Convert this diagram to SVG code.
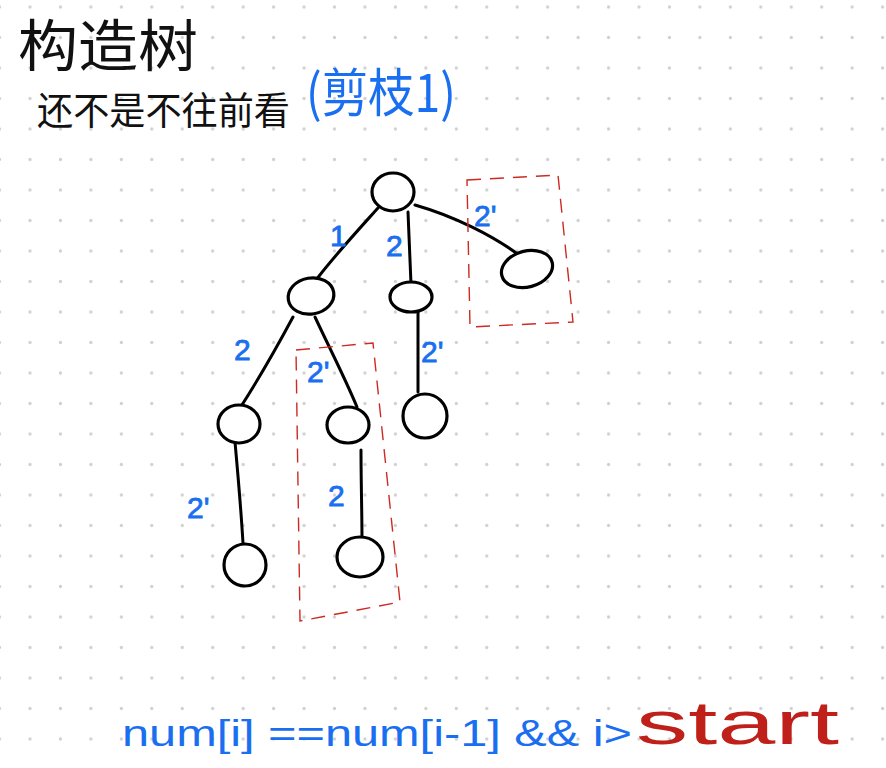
<svg xmlns="http://www.w3.org/2000/svg" width="886" height="768" viewBox="0 0 886 768">
<defs>
<pattern id="dots" patternUnits="userSpaceOnUse" x="14.8" y="-8.25" width="30.45" height="30.5">
<circle cx="15.2" cy="15.25" r="1.6" fill="#cfcfcf"/>
</pattern>
<style>
.node{fill:#fff;stroke:#000;stroke-width:3.2}
.edge{fill:none;stroke:#000;stroke-width:3;stroke-linecap:round}
.lbl{font-family:"Liberation Sans",sans-serif;fill:#1a6ff0;stroke:#1a6ff0;stroke-width:0.8;font-size:30px}
.box{fill:none;stroke:#cc2a22;stroke-width:1.4;stroke-dasharray:14 9}
.cjk{font-family:"Noto Sans CJK SC",sans-serif}
</style>
</defs>
<rect width="886" height="768" fill="#fff"/>
<rect width="886" height="768" fill="url(#dots)"/>

<g id="title">
<text class="cjk" x="18" y="66" font-size="56" textLength="180" lengthAdjust="spacingAndGlyphs" fill="#111">构造树</text>
<text class="cjk" x="37" y="124" font-size="38" textLength="253" lengthAdjust="spacingAndGlyphs" fill="#111">还不是不往前看</text>
<text class="cjk" x="306" y="112" font-size="52" textLength="150" lengthAdjust="spacingAndGlyphs" fill="#1a6ff0">(剪枝1)</text>
</g>

<g id="connectors">
<path class="edge" d="M378,208 C360,228 335,255 316,280"/>
<path class="edge" d="M408,212 C409,240 410,262 411,284"/>
<path class="edge" d="M415,205 C450,215 495,235 528,262"/>
<path class="edge" d="M293,317 C278,345 258,380 240,408"/>
<path class="edge" d="M315,317 C328,345 345,378 357,407"/>
<path class="edge" d="M418,310 L418,392"/>
<path class="edge" d="M235,442 C238,475 241,510 243,543"/>
<path class="edge" d="M361,450 C361,480 362,515 362,540"/>
</g>

<g id="root"><ellipse class="node" cx="393" cy="192" rx="21" ry="19"/></g>
<g id="n-right"><ellipse class="node" cx="527" cy="269" rx="26" ry="18" transform="rotate(-15 527 269)"/></g>
<g id="n-a"><ellipse class="node" cx="311" cy="296" rx="23" ry="18" transform="rotate(-10 311 296)"/></g>
<g id="n-b"><ellipse class="node" cx="411" cy="297" rx="21" ry="15"/></g>
<g id="n-a1"><ellipse class="node" cx="239" cy="424" rx="21" ry="19"/></g>
<g id="n-a2"><ellipse class="node" cx="348" cy="425" rx="21" ry="18"/></g>
<g id="n-b1"><ellipse class="node" cx="425" cy="416" rx="22" ry="22"/></g>
<g id="n-a1c"><ellipse class="node" cx="245" cy="565" rx="21" ry="21"/></g>
<g id="n-a2c"><ellipse class="node" cx="360" cy="557" rx="23" ry="20"/></g>

<g id="labels">
<text class="lbl" x="330" y="246" font-size="28">1</text>
<text class="lbl" x="386" y="256">2</text>
<text class="lbl" x="474" y="226">2'</text>
<text class="lbl" x="234" y="360" font-size="33">2</text>
<text class="lbl" x="307" y="382" font-size="28">2'</text>
<text class="lbl" x="421" y="362" font-size="33">2'</text>
<text class="lbl" x="187" y="518" font-size="35">2'</text>
<text class="lbl" x="328" y="506" font-size="33">2</text>
</g>

<g id="box1"><path class="box" d="M467,180 L558,175 L573,322 L470,327 Z"/></g>
<g id="box2"><path class="box" d="M296,350 L373,343 L400,602 L300,621 Z"/></g>

<g id="formula">
<text x="122" y="746" font-family="Liberation Sans,sans-serif" font-size="36" fill="#1a6ff0" textLength="510" lengthAdjust="spacingAndGlyphs">num[i] ==num[i-1] &amp;&amp; i&gt;</text>
<text x="636" y="744" font-family="Liberation Sans,sans-serif" font-size="62" fill="#c0201a" textLength="203" lengthAdjust="spacingAndGlyphs">start</text>
</g>
</svg>
